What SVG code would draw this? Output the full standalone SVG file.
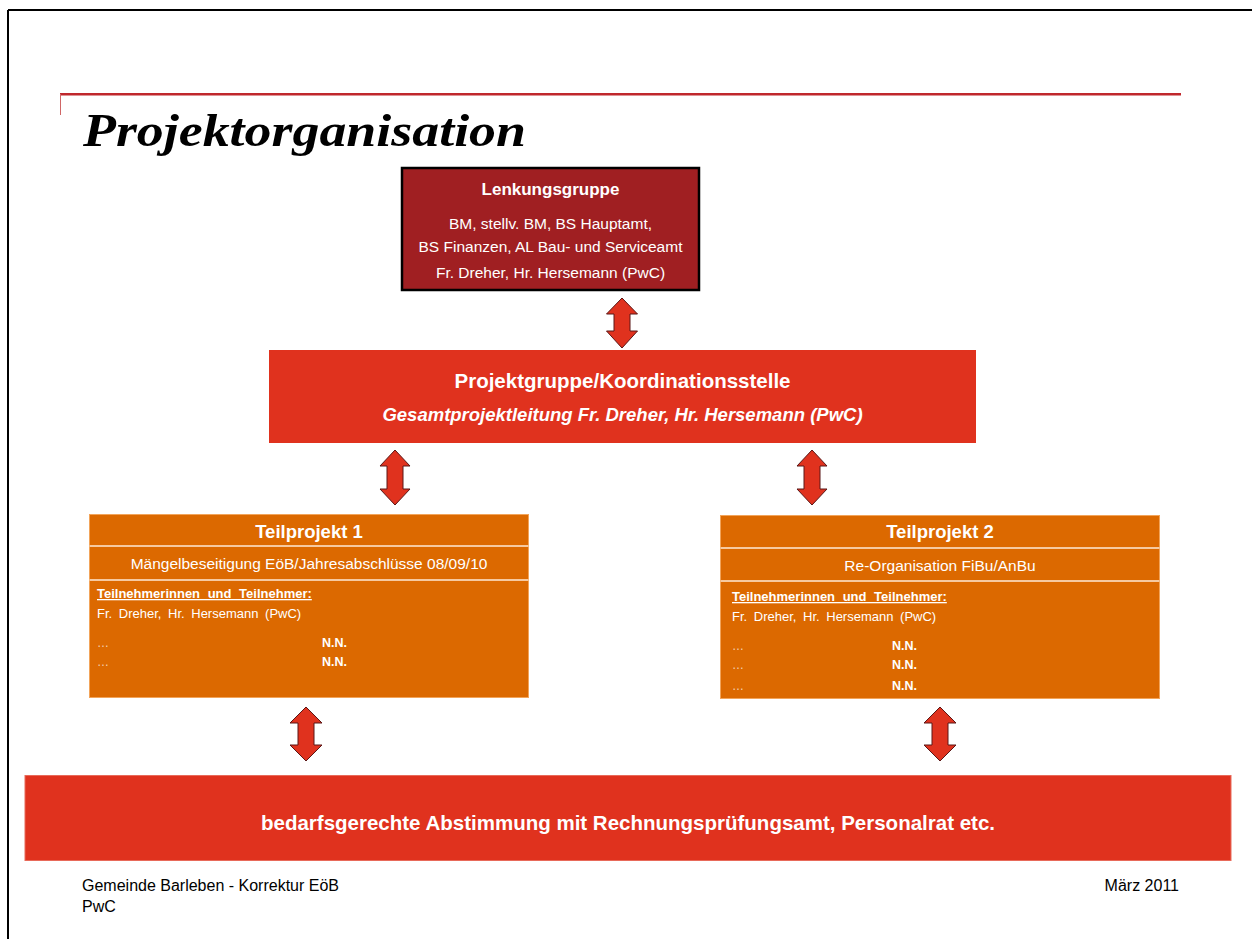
<svg xmlns="http://www.w3.org/2000/svg" width="1252" height="939" viewBox="0 0 1252 939">
<defs>
<style>
.t{font-family:"Liberation Sans",Arial,sans-serif;fill:#fff}
.b{font-weight:bold}
.arr{fill:#E0321E;stroke:#5a1616;stroke-width:1}
.tp{fill:#DC6900;stroke:#F2A45A;stroke-width:1}
.sep{stroke:#F6C9A0;stroke-width:2}
.ft{font-family:"Liberation Sans",Arial,sans-serif;fill:#000;font-size:16px}
</style>
</defs>
<rect x="0" y="0" width="1252" height="939" fill="#fff"/>
<g id="frame">
<line x1="8" y1="10" x2="1252" y2="10" stroke="#000" stroke-width="2"/>
<line x1="8" y1="10" x2="8" y2="939" stroke="#000" stroke-width="2"/>
<rect x="60" y="93" width="1121" height="2.5" fill="#C0282D"/>
<line x1="60.5" y1="94" x2="60.5" y2="115" stroke="#D06666" stroke-width="1"/>
<text x="83" y="146" font-family="'Liberation Serif',serif" font-weight="bold" font-style="italic" font-size="46" textLength="443" lengthAdjust="spacingAndGlyphs" fill="#000">Projektorganisation</text>
</g>
<g id="lenkungsgruppe">
<rect x="402" y="168" width="297" height="122" fill="#A01F22" stroke="#000" stroke-width="2.5"/>
<text class="t b" x="550.5" y="195" font-size="17" text-anchor="middle">Lenkungsgruppe</text>
<text class="t" x="550.5" y="229" font-size="15.5" text-anchor="middle">BM, stellv. BM, BS Hauptamt,</text>
<text class="t" x="550.5" y="252" font-size="15.5" text-anchor="middle">BS Finanzen, AL Bau- und Serviceamt</text>
<text class="t" x="550.5" y="278" font-size="15.5" text-anchor="middle">Fr. Dreher, Hr. Hersemann (PwC)</text>
</g>
<g id="projektgruppe">
<rect x="269" y="350" width="707" height="93" fill="#E0321E"/>
<text class="t b" x="622.5" y="388" font-size="20.5" text-anchor="middle">Projektgruppe/Koordinationsstelle</text>
<text class="t b" x="622.5" y="421" font-size="18.5" font-style="italic" text-anchor="middle">Gesamtprojektleitung Fr. Dreher, Hr. Hersemann (PwC)</text>
</g>
<g id="teilprojekt1">
<rect class="tp" x="89.5" y="514.5" width="439" height="183"/>
<line class="sep" x1="89.5" y1="546" x2="528.5" y2="546"/>
<line class="sep" x1="89.5" y1="580" x2="528.5" y2="580"/>
<text class="t b" x="309" y="538" font-size="18.5" text-anchor="middle">Teilprojekt 1</text>
<text class="t" x="309" y="569" font-size="15.5" text-anchor="middle">Mängelbeseitigung EöB/Jahresabschlüsse 08/09/10</text>
<text class="t b" x="97" y="598" font-size="13" text-decoration="underline" word-spacing="4">Teilnehmerinnen und Teilnehmer:</text>
<text class="t" x="97" y="618" font-size="13" word-spacing="3">Fr. Dreher, Hr. Hersemann (PwC)</text>
<text class="t" x="97" y="647" font-size="12" fill-opacity="0.7">…</text>
<text class="t b" x="322" y="647" font-size="12.5">N.N.</text>
<text class="t" x="97" y="666" font-size="12" fill-opacity="0.7">…</text>
<text class="t b" x="322" y="666" font-size="12.5">N.N.</text>
</g>
<g id="teilprojekt2">
<rect class="tp" x="720.5" y="515.5" width="439" height="183"/>
<line class="sep" x1="720.5" y1="548" x2="1159.5" y2="548"/>
<line class="sep" x1="720.5" y1="581" x2="1159.5" y2="581"/>
<text class="t b" x="940" y="538" font-size="18.5" text-anchor="middle">Teilprojekt 2</text>
<text class="t" x="940" y="571" font-size="15.5" text-anchor="middle">Re-Organisation FiBu/AnBu</text>
<text class="t b" x="732" y="601" font-size="13" text-decoration="underline" word-spacing="4">Teilnehmerinnen und Teilnehmer:</text>
<text class="t" x="732" y="621" font-size="13" word-spacing="3">Fr. Dreher, Hr. Hersemann (PwC)</text>
<text class="t" x="732" y="650" font-size="12" fill-opacity="0.7">…</text>
<text class="t b" x="892" y="650" font-size="12.5">N.N.</text>
<text class="t" x="732" y="669" font-size="12" fill-opacity="0.7">…</text>
<text class="t b" x="892" y="669" font-size="12.5">N.N.</text>
<text class="t" x="732" y="690" font-size="12" fill-opacity="0.7">…</text>
<text class="t b" x="892" y="690" font-size="12.5">N.N.</text>
</g>
<g id="abstimmung">
<rect x="25" y="775.5" width="1206" height="85" fill="#E0321E" stroke="#E86A5A" stroke-width="1"/>
<text class="t b" x="628" y="830" font-size="20.5" text-anchor="middle">bedarfsgerechte Abstimmung mit Rechnungsprüfungsamt, Personalrat etc.</text>
</g>
<g id="connectors">
<path class="arr" d="M622,298 L637.5,314 L630,314 L630,331 L637.5,331 L622,348 L606.5,331 L614,331 L614,314 L606.5,314 Z"/>
<path class="arr" d="M395,450 L410,466 L403,466 L403,489 L410,489 L395,505 L380,489 L387,489 L387,466 L380,466 Z"/>
<path class="arr" d="M812,450 L827,466 L820,466 L820,489 L827,489 L812,505 L797,489 L804,489 L804,466 L797,466 Z"/>
<path class="arr" d="M306,707 L322,723 L314,723 L314,745 L322,745 L306,761 L290,745 L298,745 L298,723 L290,723 Z"/>
<path class="arr" d="M940,707 L956,723 L948,723 L948,745 L956,745 L940,761 L924,745 L932,745 L932,723 L924,723 Z"/>
</g>
<g id="footer">
<text class="ft" x="82" y="891">Gemeinde Barleben - Korrektur EöB</text>
<text class="ft" x="82" y="912">PwC</text>
<text class="ft" x="1179" y="891" text-anchor="end">März 2011</text>
</g>
</svg>
